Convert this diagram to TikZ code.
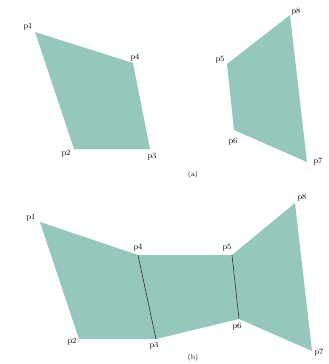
\documentclass[tikz,border=0pt]{standalone}
\usepackage{xcolor}
\definecolor{patchfill}{RGB}{150,199,189}

\begin{document}
\begin{tikzpicture}[x=1pt, y=-1pt,
        patch/.style={fill=patchfill, draw=none},
        seam/.style={draw=black!80, line width=0.6pt},
        lbl/.style={font=\fontsize{8}{9}\selectfont, inner sep=0pt},
        subcap/.style={font=\scriptsize, inner sep=0pt}
    ]
        \useasboundingbox (0,0) rectangle (329,364);
        % (a) two separate quadrilaterals
        \coordinate (a1) at (35,32);
        \coordinate (a2) at (74,149);
        \coordinate (a3) at (150,149);
        \coordinate (a4) at (133,63);
        \coordinate (a5) at (227,64);
        \coordinate (a6) at (234,130);
        \coordinate (a7) at (307,162);
        \coordinate (a8) at (290,15);
        \fill[patch] (a1) -- (a2) -- (a3) -- (a4) -- cycle;
        \fill[patch] (a5) -- (a6) -- (a7) -- (a8) -- cycle;
        \node[lbl] (la1) at (28,27) {p1};
        \node[lbl] (la2) at (66,154) {p2};
        \node[lbl] (la3) at (152,157) {p3};
        \node[lbl] (la4) at (135,58) {p4};
        \node[lbl] (la5) at (220,60) {p5};
        \node[lbl] (la6) at (233,142) {p6};
        \node[lbl] (la7) at (318,162) {p7};
        \node[lbl] (la8) at (296,12) {p8};
        \node[subcap] (capa) at (193,175) {(a)};
        % (b) joined strip
        \coordinate (b1) at (40,222);
        \coordinate (b2) at (79,339);
        \coordinate (b3) at (156,339);
        \coordinate (b4) at (138,255);
        \coordinate (b5) at (232,255);
        \coordinate (b6) at (239,319);
        \coordinate (b7) at (312,351);
        \coordinate (b8) at (295,203);
        \fill[patch] (b1) -- (b2) -- (b3) -- (b6) -- (b7) -- (b8) -- (b5) -- (b4) -- cycle;
        \draw[seam] (b4) -- (b3);
        \draw[seam] (b5) -- (b6);
        \node[lbl] (lb1) at (31,218) {p1};
        \node[lbl] (lb2) at (72,342) {p2};
        \node[lbl] (lb3) at (154,346) {p3};
        \node[lbl] (lb4) at (138,248) {p4};
        \node[lbl] (lb5) at (227,248) {p5};
        \node[lbl] (lb6) at (237,327) {p6};
        \node[lbl] (lb7) at (319,353) {p7};
        \node[lbl] (lb8) at (302,198) {p8};
        \node[subcap] (capb) at (193,358) {(b)};
    \end{tikzpicture}
\end{document}
